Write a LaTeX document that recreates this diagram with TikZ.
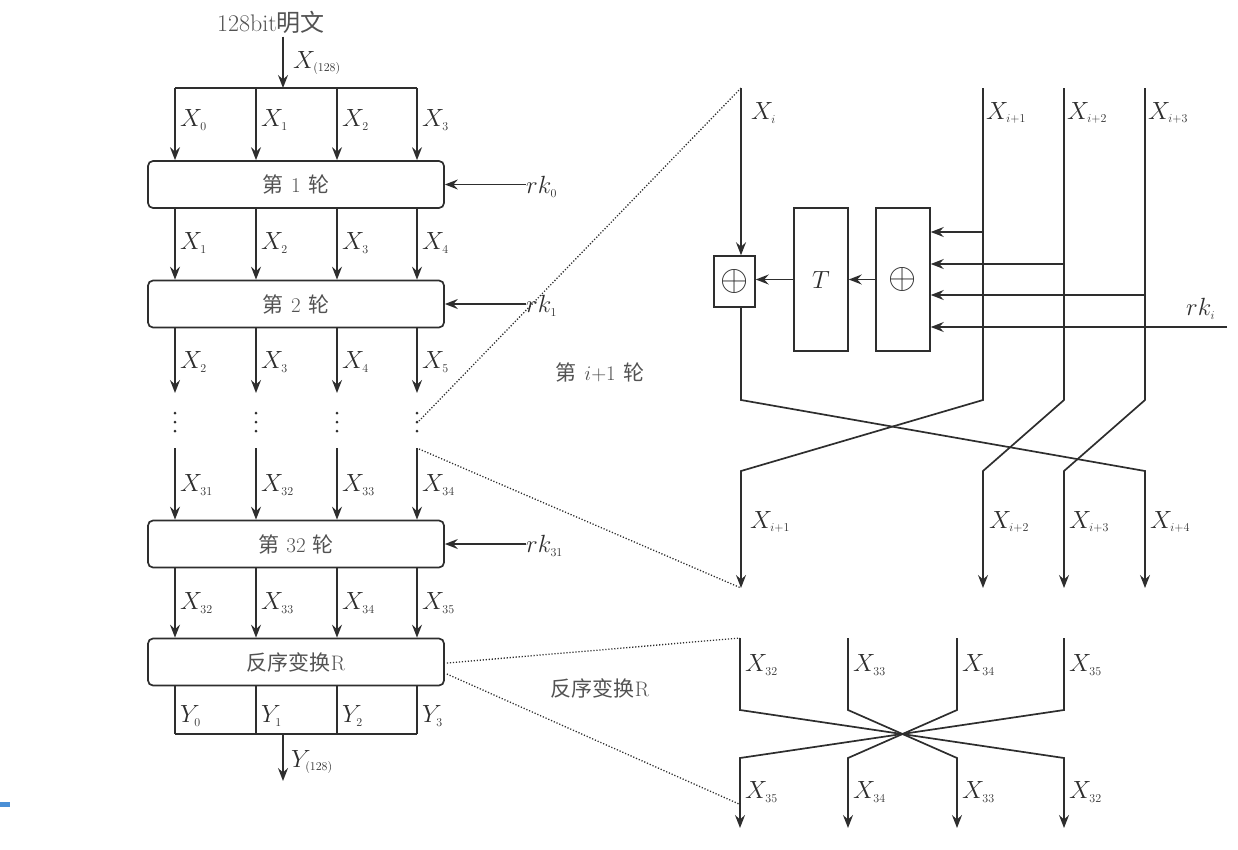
\documentclass[tikz,border=0pt]{standalone}
\usepackage{fontspec}
\usepackage{graphicx}
\newfontfamily\cjk{Noto Sans CJK SC}
\usetikzlibrary{arrows.meta,calc}
\DeclareMathSizes{24.88}{24.88}{16}{12}
\colorlet{ink}{black!82}
\colorlet{cjkink}{black!68}
\definecolor{taskblue}{HTML}{4A8FD6}
\newcommand\Xs[2]{#1_{\scriptscriptstyle #2}}
\newcommand\gapsp{\hspace{0.35em}}
\newcommand\bigxor{\scalebox{1.45}{$\oplus$}}
\begin{document}
\begin{tikzpicture}[x=1pt,y=-1pt,
  every node/.style={text=ink},
  line/.style={draw=ink,line width=1.7pt},
  arr/.style={line,-{Stealth[length=13pt,width=10pt,inset=4.5pt]}},
  rbox/.style={draw=ink,line width=1.7pt,rounded corners=5pt,minimum width=296pt,minimum height=47pt,inner sep=0pt,text=cjkink,font=\cjk\fontsize{21}{25}\selectfont},
  sbox/.style={draw=ink,line width=1.5pt,inner sep=0pt},
  lbl/.style={anchor=west,inner sep=0pt,font=\fontsize{24.88}{28}\selectfont},
  dotl/.style={draw=ink,line width=1.3pt,dash pattern=on 1.2pt off 1.8pt},
  cjktext/.style={text=cjkink,font=\cjk\fontsize{21}{25}\selectfont},
  bigop/.style={font=\fontsize{24.88}{28}\selectfont}
]
\useasboundingbox (0,0) rectangle (1238,849);
\fill[taskblue] (0,802) rectangle (10,807);

% ---------- left column ----------
\node[font=\fontsize{24}{27}\selectfont,text=cjkink] (pt) at (271,22) {128bit{\cjk 明文}};
\coordinate (sp) at (283,88);
\draw[arr] (pt.south -| sp) -- (sp);
\node[lbl] at (293,63) {$\Xs{X}{(128)}$};

\foreach \i/\x in {1/175,2/256,3/337,4/417}{
  \coordinate (c\i) at (\x,0);
  \coordinate (a\i) at (\x,393);
  \coordinate (s\i) at (\x,448);
}
\draw[line] (c1|-sp) -- (c4|-sp);

\node[rbox] (b1) at (296,184.5) {第\gapsp{\rmfamily 1}\gapsp 轮};
\node[rbox] (b2) at (296,304) {第\gapsp{\rmfamily 2}\gapsp 轮};
\node[rbox] (b32) at (296,544) {第\gapsp{\rmfamily 32}\gapsp 轮};
\node[rbox] (bR) at (296,662) {反序变换{\rmfamily R}};

\foreach \i in {1,...,4}{
  \draw[arr] (c\i|-sp) -- (c\i|-b1.north);
  \draw[arr] (c\i|-b1.south) -- (c\i|-b2.north);
  \draw[arr] (c\i|-b2.south) -- (a\i);
  \draw[arr] (s\i) -- (c\i|-b32.north);
  \draw[arr] (c\i|-b32.south) -- (c\i|-bR.north);
  \foreach \yy in {413,422,431} \fill[ink] ($(c\i)+(0,\yy)$) circle (1.5pt);
}

% labels
\foreach \i/\a/\b/\c/\d/\e/\f in {1/0/1/2/31/32/0,2/1/2/3/32/33/1,3/2/3/4/33/34/2,4/3/4/5/34/35/3}{
  \node[lbl] at ($(c\i)+(5,120)$) {$\Xs{X}{\a}$};
  \node[lbl] at ($(c\i)+(5,243)$) {$\Xs{X}{\b}$};
  \node[lbl] at ($(c\i)+(5,362)$) {$\Xs{X}{\c}$};
  \node[lbl] at ($(c\i)+(5,485)$) {$\Xs{X}{\d}$};
  \node[lbl] at ($(c\i)+(5,603)$) {$\Xs{X}{\e}$};
  \node[lbl] at ($(c\i)+(5,716)$) {$\Xs{Y}{\f}$};
}

% output
\coordinate (yb) at (283,734);
\coordinate (yout) at (283,781);
\foreach \i in {1,...,4} \draw[line] (c\i|-bR.south) -- (c\i|-yb);
\draw[line] (c1|-yb) -- (c4|-yb);
\draw[arr] (yb) -- (yout);
\node[lbl] at (291,762) {$\Xs{Y}{(128)}$};

% round keys
\node[lbl] (rk0) at (526,187) {$\Xs{rk}{0}$};
\node[lbl] (rk1) at (526,306) {$\Xs{rk}{1}$};
\node[lbl] (rk31) at (526,546) {$\Xs{rk}{31}$};
\draw[arr] (rk0.west|-b1.east) -- (b1.east);
\draw[arr] (rk1.west|-b2.east) -- (b2.east);
\draw[arr] (rk31.west|-b32.east) -- (b32.east);

% ---------- round detail ----------
\coordinate (xi) at (741,88);
\coordinate (xa) at (983,88);
\coordinate (xb) at (1064,88);
\coordinate (xc) at (1145,88);
\node[sbox,bigop,minimum width=41pt,minimum height=51pt] (xs) at (734.5,281.5) {\bigxor};
\node[sbox,minimum width=54pt,minimum height=143pt,font=\fontsize{24}{27}\selectfont] (T) at (821,279.5) {$T$};
\node[sbox,bigop,minimum width=54pt,minimum height=143pt] (X) at (903,279.5) {\bigxor};

\draw[arr] (xi) -- (xi|-xs.north);
\draw[arr] (X.west) -- (T.east);
\draw[arr] (T.west) -- (T.west-|xs.east);

\draw[arr] (983,232) -- (X.east|-0,232);
\draw[arr] (1064,264) -- (X.east|-0,264);
\draw[arr] (1145,295) -- (X.east|-0,295);
\coordinate (rki) at (1227,327);
\draw[arr] (rki) -- (X.east|-rki);
\node[lbl] at (1186,309) {$\Xs{rk}{i}$};

\draw[arr] (xs.south-|xi) -- (741,400) -- (1145,471) -- (1145,588);
\draw[arr] (xa) -- (983,400) -- (741,471) -- (741,588);
\draw[arr] (xb) -- (1064,400) -- (983,471) -- (983,588);
\draw[arr] (xc) -- (1145,400) -- (1064,471) -- (1064,588);
\coordinate (xo) at (741,588);

\node[lbl] at (751,113) {$\Xs{X}{i}$};
\node[lbl] at (986,113) {$\Xs{X}{i+1}$};
\node[lbl] at (1067,113) {$\Xs{X}{i+2}$};
\node[lbl] at (1148,113) {$\Xs{X}{i+3}$};
\node[lbl] at (750,522) {$\Xs{X}{i+1}$};
\node[lbl] at (989,522) {$\Xs{X}{i+2}$};
\node[lbl] at (1069,522) {$\Xs{X}{i+3}$};
\node[lbl] at (1150,522) {$\Xs{X}{i+4}$};

\node[cjktext] (rd) at (600,372) {第\gapsp{\rmfamily$i{+}1$}\gapsp 轮};

\coordinate (zt) at (419,421);
\coordinate (zb) at (419,449);
\draw[dotl] (zt) -- (xi);
\draw[dotl] (zb) -- (xo);

% ---------- reverse detail ----------
\coordinate (r1) at (740,638);
\coordinate (r2) at (848,638);
\coordinate (r3) at (957,638);
\coordinate (r4) at (1064,638);
\draw[arr] (r1) -- (740,710) -- (1064,758) -- (1064,828);
\draw[arr] (r2) -- (848,710) -- (957,758) -- (957,828);
\draw[arr] (r3) -- (957,710) -- (848,758) -- (848,828);
\draw[arr] (r4) -- (1064,710) -- (740,758) -- (740,828);

\node[lbl] at (745,665) {$\Xs{X}{32}$};
\node[lbl] at (853,665) {$\Xs{X}{33}$};
\node[lbl] at (962,665) {$\Xs{X}{34}$};
\node[lbl] at (1069,665) {$\Xs{X}{35}$};
\node[lbl] at (745,792) {$\Xs{X}{35}$};
\node[lbl] at (853,792) {$\Xs{X}{34}$};
\node[lbl] at (962,792) {$\Xs{X}{33}$};
\node[lbl] at (1069,792) {$\Xs{X}{32}$};

\node[cjktext] (rr) at (600,688) {反序变换{\rmfamily R}};

\coordinate (rb) at (739,804);
\draw[dotl] ($(bR.east)+(2,1)$) -- (r1);
\draw[dotl] ($(bR.east)+(2,12)$) -- (rb);
\end{tikzpicture}
\end{document}
